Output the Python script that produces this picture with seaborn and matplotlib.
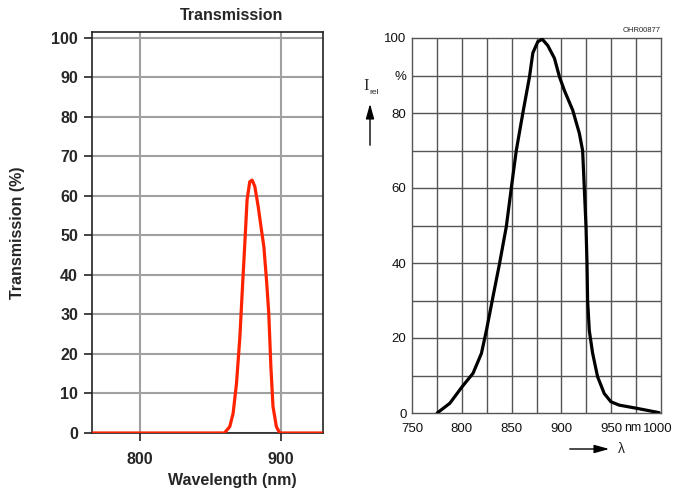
import matplotlib
matplotlib.use("Agg")
import matplotlib.pyplot as plt
import matplotlib.transforms as mtransforms
import seaborn as sns
import pandas as pd

# ---- Left panel data: filter transmission ----
trans_wl = [766, 850, 860, 863.8, 866.2, 868.6, 871, 872.6, 874.5, 876.1, 878, 879.7,
            881.6, 884, 886.3, 888, 889.9, 891.5, 893, 894.5, 896.9, 899.3, 930]
trans_val = [0, 0, 0, 1.6, 5, 12.6, 24.4, 35.4, 48, 59, 63.6, 64,
             62.4, 57.3, 51.4, 47.2, 38.7, 30.3, 16.8, 6.7, 1.6, 0, 0]
left_xticks = [800, 900]
left_yticks = [0, 10, 20, 30, 40, 50, 60, 70, 80, 90, 100]

# ---- Right panel data: relative emission (OHR00877) ----
emis_wl = [775.3, 788, 800.3, 811.3, 819.7, 824.7, 831.3, 838, 844.7, 849.7, 854.7,
           861.3, 868, 871.3, 876.3, 880.7, 886.3, 893, 898, 903, 911.3, 918, 921.3,
           923, 924.7, 925.7, 926.3, 928, 931.3, 936.3, 943, 949.7, 958, 974.7, 998]
emis_val = [0, 2.6, 7, 10.6, 15.9, 22, 31, 40, 49.7, 60, 70,
            80, 89.7, 96, 99, 99.7, 98, 94.6, 89.7, 86, 80.8, 74.6, 70,
            60, 49.7, 40, 30.1, 22, 16, 9.7, 5.2, 3, 2.1, 1.3, 0.1]
right_xticks = [750, 800, 850, 900, 950, 1000]
right_yticks = [0, 20, 40, 60, 80, 90, 100]
right_ylabels = ["0", "20", "40", "60", "80", "%", "100"]
right_xgrid = [775, 800, 825, 850, 875, 900, 925, 950, 975]
right_ygrid = [10, 20, 30, 40, 50, 60, 70, 80, 90]

sns.set_style("white")
plt.rcParams["font.family"] = ["Liberation Sans", "DejaVu Sans"]

W, H = 673, 491
fig = plt.figure(figsize=(W / 100, H / 100), dpi=100)

def rect(l, t, r, b):
    return [l / W, 1 - b / H, (r - l) / W, (b - t) / H]

# ---------------- Left panel ----------------
ax1 = fig.add_axes(rect(92, 32, 323, 433))
df1 = pd.DataFrame({"wl": trans_wl, "T": trans_val})
sns.lineplot(data=df1, x="wl", y="T", ax=ax1, color="#ff2200", linewidth=2.3, zorder=3)
ax1.set_xlim(766, 930)
ax1.set_ylim(0, 101.5)
ax1.set_xticks(left_xticks)
ax1.set_yticks(left_yticks)
ax1.grid(True, color="#a0a0a0", linewidth=1.5, zorder=0)
ax1.set_axisbelow(True)
for s in ax1.spines.values():
    s.set_color("#222222")
    s.set_linewidth(1.2)
ax1.tick_params(axis="both", which="major", direction="out", length=6, width=1.2,
                color="#222222", labelsize=11.5, left=True, bottom=True)
ax1.tick_params(axis="y", pad=4)
ax1.tick_params(axis="x", pad=8)
for lab in ax1.get_xticklabels() + ax1.get_yticklabels():
    lab.set_fontweight("bold")
ax1.set_xlabel("")
ax1.set_ylabel("")
fig.text(232 / W, 1 - 16 / H, "Transmission", ha="center", va="center",
         fontsize=11.5, fontweight="bold")
fig.text(232 / W, 1 - 481 / H, "Wavelength (nm)", ha="center", va="center",
         fontsize=11.5, fontweight="bold")
fig.text(18 / W, 1 - 233 / H, "Transmission (%)", ha="center", va="center",
         rotation=90, fontsize=11.5, fontweight="bold")

# ---------------- Right panel ----------------
ax2 = fig.add_axes(rect(412, 38, 661, 413))
df2 = pd.DataFrame({"wl": emis_wl, "I": emis_val})
sns.lineplot(data=df2, x="wl", y="I", ax=ax2, color="black", linewidth=2.3, zorder=3)
ax2.set_xlim(750, 1000)
ax2.set_ylim(0, 100)
for g in right_xgrid:
    ax2.axvline(g, color="#555555", linewidth=1.0, zorder=1)
for g in right_ygrid:
    ax2.axhline(g, color="#555555", linewidth=1.0, zorder=1)
for s in ax2.spines.values():
    s.set_color("#555555")
    s.set_linewidth(1.0)
ax2.set_xticks(right_xticks)
ax2.set_yticks(right_yticks)
ax2.set_yticklabels(right_ylabels)
ax2.tick_params(axis="both", length=0, labelsize=9.5, colors="#111111")
ax2.tick_params(axis="x", pad=7)
ax2.tick_params(axis="y", pad=4)
ax2.set_xlabel("")
ax2.set_ylabel("")
# shift the last x label slightly left so it stays inside the figure
xl = ax2.get_xticklabels()
xl[-1].set_transform(xl[-1].get_transform() +
                     mtransforms.ScaledTranslation(-3 / 100, 0, fig.dpi_scale_trans))
fig.text(633 / W, 1 - 428 / H, "nm", ha="center", va="center", fontsize=8.8,
         color="#111111")
fig.text(661 / W, 1 - 31 / H, "OHR00877", ha="right", va="center", fontsize=5.5)
# I_rel label with up arrow
fig.text(363 / W, 1 - 86 / H, "I", ha="left", va="center",
         fontsize=12, family="Liberation Serif")
fig.text(369 / W, 1 - 92 / H, "rel", ha="left", va="center", fontsize=6)
fig.patches.append(matplotlib.patches.FancyArrowPatch(
    (370 / W, 1 - 148 / H), (370 / W, 1 - 101 / H), transform=fig.transFigure,
    arrowstyle="-|>,head_length=0.9,head_width=0.25", mutation_scale=10,
    color="black", linewidth=1.0))
# lambda arrow
fig.patches.append(matplotlib.patches.FancyArrowPatch(
    (567 / W, 1 - 449 / H), (612 / W, 1 - 449 / H), transform=fig.transFigure,
    arrowstyle="-|>,head_length=0.9,head_width=0.25", mutation_scale=10,
    color="black", linewidth=1.0))
fig.text(618 / W, 1 - 449 / H, "λ", ha="left", va="center", fontsize=10)

fig.savefig("out.png", dpi=100)
